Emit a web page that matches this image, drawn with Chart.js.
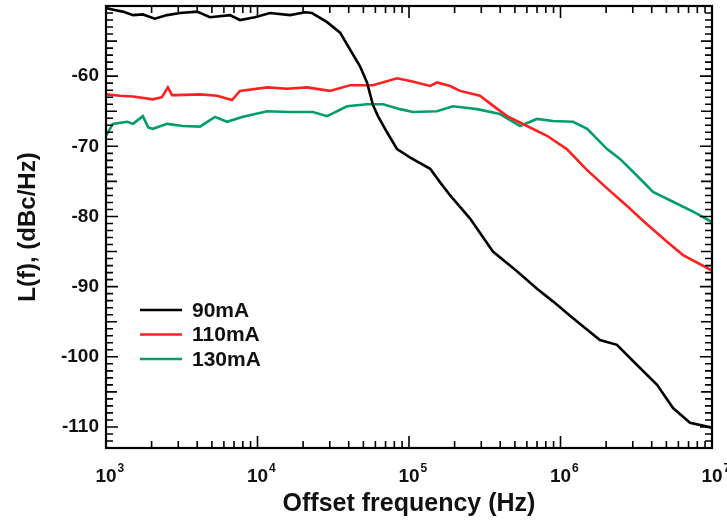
<!DOCTYPE html>
<html><head><meta charset="utf-8">
<script src="https://cdn.jsdelivr.net/npm/chart.js@4/dist/chart.umd.min.js"></script>
<style>html,body{margin:0;padding:0;background:#fff;}</style>
</head><body>
<canvas id="c" width="727" height="520"></canvas>
<script>
// ---- data ----
const seriesLabels = ['90mA', '110mA', '130mA'];
const seriesColors = ['#000000', '#ff2020', '#009e68'];

const freq90 = [1000, 1160, 1290, 1510, 1750, 2100, 2530, 3080, 3990, 4850, 6580, 7660, 9620, 12100, 16400, 20600, 22900, 28800, 35100, 40800, 47500, 52800, 57800, 62400, 71600, 83400, 102000, 138000, 160000, 187000, 253000, 358000, 516000, 700000, 891000, 1210000, 1820000, 2360000, 3010000, 4340000, 5530000, 7160000, 10000000];
const val90  = [-50.3, -50.6, -50.8, -51.3, -51.2, -51.8, -51.3, -51.0, -50.8, -51.6, -51.3, -52.0, -51.6, -51.0, -51.3, -50.9, -51.0, -52.3, -53.8, -56.2, -58.6, -60.9, -64.1, -65.7, -68.0, -70.4, -71.6, -73.2, -75.1, -77.0, -80.3, -85.0, -87.8, -90.3, -92.1, -94.5, -97.6, -98.3, -100.6, -104.0, -107.3, -109.4, -110.1];

const freq110 = [1000, 1240, 1510, 2040, 2340, 2560, 2730, 2940, 4170, 5410, 6790, 7660, 11600, 15700, 21200, 30100, 40800, 57800, 83400, 102000, 138000, 153000, 187000, 217000, 294000, 358000, 444000, 601000, 815000, 1100000, 1500000, 2030000, 2750000, 3720000, 5050000, 6440000, 10000000];
const val110  = [-62.6, -62.8, -62.9, -63.3, -63.0, -61.6, -62.7, -62.7, -62.6, -62.8, -63.4, -62.1, -61.6, -61.8, -61.6, -62.1, -61.3, -61.3, -60.3, -60.7, -61.4, -60.9, -61.4, -62.1, -62.8, -64.2, -65.7, -67.1, -68.5, -70.4, -73.4, -76.0, -78.5, -81.1, -83.6, -85.5, -87.7];

const freq130 = [1000, 1110, 1380, 1510, 1750, 1900, 2040, 2530, 3220, 4170, 5240, 6300, 8020, 11600, 16400, 23200, 28800, 39000, 52800, 67300, 87300, 106000, 153000, 195000, 281000, 399000, 541000, 700000, 891000, 1210000, 1500000, 2030000, 2470000, 3200000, 4080000, 5530000, 7500000, 10000000];
const val130  = [-68.5, -66.8, -66.5, -66.8, -65.7, -67.3, -67.5, -66.8, -67.1, -67.2, -65.8, -66.5, -65.8, -65.0, -65.1, -65.1, -65.7, -64.3, -64.0, -64.0, -64.7, -65.1, -65.0, -64.3, -64.7, -65.4, -67.1, -66.1, -66.4, -66.5, -67.5, -70.4, -71.8, -74.2, -76.5, -77.9, -79.3, -80.8];

const xTickExponents = [3, 4, 5, 6, 7];
const yTickValues = [-60, -70, -80, -90, -100, -110];
const xTitle = 'Offset frequency (Hz)';
const yTitle = 'L(f), (dBc/Hz)';

const FONT = '"Liberation Sans", Arial, sans-serif';
const TEXT = '#111111';

function pts(xs, ys) { return xs.map((f, i) => ({ x: f, y: ys[i] })); }

const allSeries = [[freq90, val90], [freq110, val110], [freq130, val130]];

// frame + inward ticks + superscript x labels
const framePlugin = {
  id: 'framePlugin',
  afterDatasetsDraw(chart) {
    const { ctx, chartArea: a, scales: { x, y } } = chart;
    ctx.save();
    ctx.strokeStyle = '#000';
    ctx.lineWidth = 1.6;
    ctx.beginPath();
    const xmin = x.min, xmax = x.max;
    for (let d = Math.round(Math.log10(xmin)); d <= Math.round(Math.log10(xmax)); d++) {
      for (let m = 1; m <= 9; m++) {
        const v = m * Math.pow(10, d);
        if (v < xmin * 0.999 || v > xmax * 1.001) continue;
        const px = x.getPixelForValue(v);
        const len = m === 1 ? 12 : 7;
        ctx.moveTo(px, a.bottom); ctx.lineTo(px, a.bottom - len);
        ctx.moveTo(px, a.top); ctx.lineTo(px, a.top + len);
      }
    }
    for (let v = Math.ceil(y.min); v <= Math.floor(y.max); v++) {
      const py = y.getPixelForValue(v);
      const len = v % 10 === 0 ? 12 : (v % 5 === 0 ? 11 : 7);
      ctx.moveTo(a.left, py); ctx.lineTo(a.left + len, py);
      ctx.moveTo(a.right, py); ctx.lineTo(a.right - len, py);
    }
    ctx.stroke();
    ctx.lineWidth = 2.2;
    ctx.strokeRect(a.left, a.top, a.right - a.left, a.bottom - a.top);

    // x tick labels 10^n
    ctx.fillStyle = TEXT;
    ctx.textBaseline = 'alphabetic';
    xTickExponents.forEach(e => {
      const px = x.getPixelForValue(Math.pow(10, e));
      ctx.font = 'bold 19px ' + FONT;
      ctx.textAlign = 'center';
      const w = ctx.measureText('10').width;
      ctx.fillText('10', px, a.bottom + 34);
      ctx.font = 'bold 12px ' + FONT;
      ctx.textAlign = 'left';
      ctx.fillText(String(e), px + w / 2 + 1, a.bottom + 24);
    });

    // legend inside plot
    ctx.font = 'bold 21px ' + FONT;
    ctx.textAlign = 'left';
    ctx.textBaseline = 'middle';
    chart.data.datasets.forEach((ds, i) => {
      const ly = a.top + 304 + i * 24.5;
      ctx.strokeStyle = ds.borderColor;
      ctx.lineWidth = 2.5;
      ctx.beginPath();
      ctx.moveTo(a.left + 34, ly); ctx.lineTo(a.left + 76, ly);
      ctx.stroke();
      ctx.fillStyle = TEXT;
      ctx.fillText(ds.label, a.left + 86, ly + 1);
    });
    ctx.restore();
  }
};

new Chart(document.getElementById('c'), {
  type: 'line',
  data: {
    datasets: allSeries.map((s, i) => ({
      label: seriesLabels[i],
      data: pts(s[0], s[1]),
      borderColor: seriesColors[i],
      backgroundColor: seriesColors[i],
      borderWidth: 2.6,
      pointRadius: 0,
      tension: 0,
      fill: false
    }))
  },
  options: {
    responsive: false,
    animation: false,
    devicePixelRatio: 1,
    layout: { padding: { left: 0, right: 15, top: 6, bottom: 0 } },
    plugins: { legend: { display: false }, tooltip: { enabled: false } },
    scales: {
      x: {
        type: 'logarithmic',
        min: 1000, max: 10000000,
        grid: { display: false, drawTicks: false },
        border: { display: false },
        ticks: { display: false },
        afterFit: s => { s.height = 72; s.paddingLeft = 0; s.paddingRight = 0; },
        title: { display: true, text: xTitle, color: TEXT, font: { family: FONT, size: 25, weight: 'bold' }, padding: { top: 0, bottom: 1 } }
      },
      y: {
        type: 'linear',
        min: -113, max: -50,
        afterBuildTicks: s => { s.ticks = yTickValues.map(v => ({ value: v })); },
        grid: { display: false, drawTicks: false },
        border: { display: false },
        ticks: { color: TEXT, padding: 7, font: { family: FONT, size: 19, weight: 'bold' } },
        afterFit: s => { s.width = 106; s.paddingTop = 0; s.paddingBottom = 0; },
        title: { display: true, text: yTitle, color: TEXT, font: { family: FONT, size: 24, weight: 'bold' }, padding: { top: 14, bottom: 0 } }
      }
    }
  },
  plugins: [framePlugin]
});
</script>
</body></html>
